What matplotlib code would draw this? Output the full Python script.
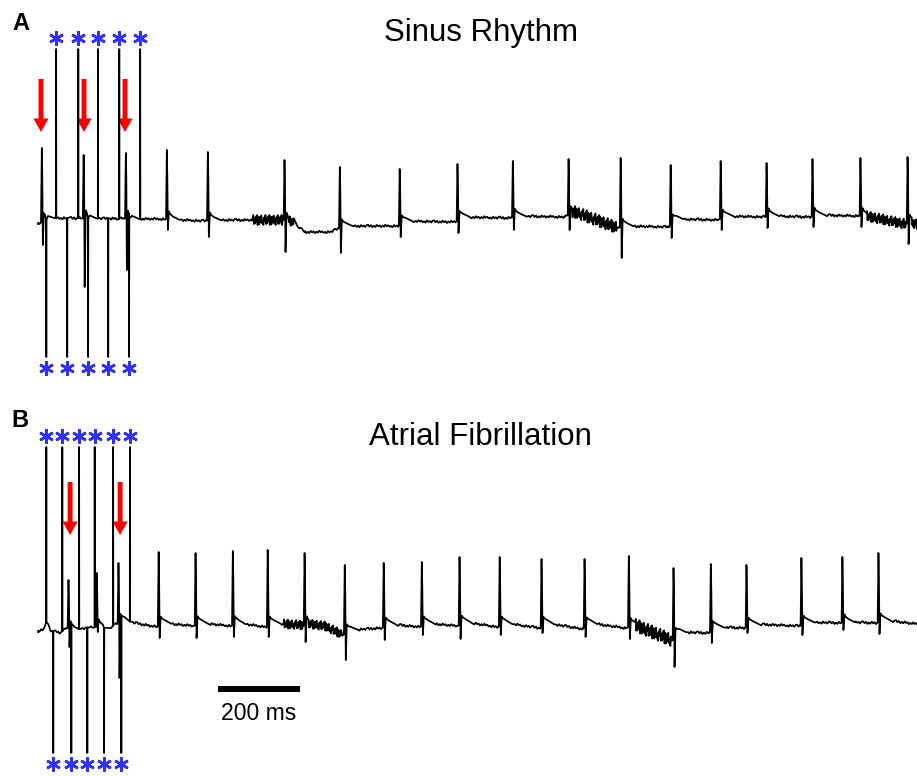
import matplotlib
matplotlib.use('Agg')
import matplotlib.pyplot as plt
import numpy as np

plt.rcParams['font.family'] = ['Liberation Sans', 'DejaVu Sans']

# ---------------- Panel A : sinus rhythm (time in ms, amplitude in mV) ----------------
a_beat_t = [10, 112, 215, 315, 415, 602, 737, 883, 1024, 1159, 1295, 1422,
            1544, 1666, 1778, 1890, 2007, 2122]
a_beat_peak = [1.40, 1.26, 1.30, 1.36, 1.32, 1.16, 1.02, 0.98, 1.08, 1.14, 1.18,
               1.20, 1.06, 1.14, 1.10, 1.18, 1.20, 1.22]
a_beat_trough = [-0.54, -1.38, -1.04, -0.24, -0.38, -0.68, -0.70, -0.38, -0.30,
                 -0.24, -0.24, -0.80, -0.40, -0.24, -0.20, -0.18, -0.18, -0.52]
a_base_t = [0, 29, 298, 407, 432, 598, 620, 651, 712, 749, 878, 895, 1017, 1034,
            1151, 1171, 1285, 1310, 1415, 1434, 1537, 1556, 1659, 1678, 1773, 1790,
            1883, 1902, 2000, 2020, 2115, 2132, 2144]
a_base_v = [-0.12, 0.0, -0.02, -0.06, -0.04, -0.04, -0.08, -0.28, -0.28, -0.16,
            -0.16, -0.06, -0.08, 0.02, 0.0, 0.04, 0.02, 0.12, -0.20, -0.16, -0.18,
            -0.02, -0.04, 0.04, 0.02, 0.04, 0.02, 0.06, 0.04, 0.04, -0.12, -0.08,
            -0.14]
a_pace_up_t = [44, 98, 146, 198, 249]
a_pace_down_t = [20, 71, 122, 171, 222]
a_pace_up_v = 3.38
a_pace_down_v = -2.78
a_arrow_t = [7, 112, 212]
a_noise = [(525, 625, 0.10), (1300, 1412, 0.12), (2022, 2144, 0.10)]

# ---------------- Panel B : atrial fibrillation ----------------
b_beat_t = [75, 144, 197, 295, 385, 476, 561, 651, 749, 844, 937, 1029, 1127,
            1229, 1334, 1442, 1551, 1642, 1729, 1863, 1963, 2051]
b_beat_peak = [0.90, 1.04, 1.24, 1.46, 1.44, 1.48, 1.50, 1.44, 1.20, 1.24, 1.26,
               1.36, 1.36, 1.32, 1.32, 1.38, 1.14, 1.22, 1.20, 1.34, 1.36, 1.44]
b_beat_trough = [-0.44, -0.14, -1.06, -0.26, -0.26, -0.24, -0.24, -0.34, -0.70,
                 -0.30, -0.20, -0.28, -0.20, -0.16, -0.24, -0.28, -0.84, -0.36,
                 -0.16, -0.20, -0.10, -0.18]
b_base_t = [0, 15, 22, 29, 54, 68, 90, 127, 176, 187, 212, 237, 290, 305, 380,
            395, 471, 485, 556, 571, 639, 663, 700, 744, 761, 839, 854, 932, 946,
            1024, 1039, 1122, 1137, 1224, 1239, 1329, 1344, 1432, 1456, 1546,
            1563, 1637, 1651, 1724, 1739, 1859, 1873, 1959, 1973, 2046, 2063, 2144]
b_base_v = [-0.14, -0.06, 0.10, -0.10, -0.16, -0.06, -0.10, -0.04, -0.06, 0.02,
            0.10, 0.04, -0.04, 0.04, -0.02, 0.04, -0.02, 0.04, -0.04, 0.04, 0.0,
            0.02, -0.02, -0.20, -0.10, -0.06, 0.02, -0.04, 0.04, -0.02, 0.06,
            -0.04, 0.04, -0.06, 0.04, -0.08, 0.04, -0.06, 0.0, -0.30, -0.14,
            -0.16, -0.04, -0.06, 0.02, -0.02, 0.06, 0.04, 0.06, 0.04, 0.10, 0.02]
b_pace_up_t = [20, 59, 100, 138, 183, 224]
b_pace_down_t = [37, 81, 120, 161, 203]
b_pace_up_v = 3.56
b_pace_down_v = -2.56
b_arrow_t = [78, 200]
b_noise = [(600, 740, 0.09), (1458, 1545, 0.13)]

scale_ms = 200
# irregular wiggle shape used for the fine baseline texture and the noisy bursts
texture = [1.0, -0.5, 0.7, -1.0, 0.2, -0.8, 0.9, -0.3, 0.5, -0.9, 0.3, -0.6,
           1.0, -0.2, 0.6, -0.7, 0.1, -1.0, 0.8, -0.4, 0.4, -0.8, 0.7]
t_wave = [(4, 0.16), (7, 0.11), (14, 0.06), (30, 0.0)]


def build_trace(base_t, base_v, beat_t, peak, trough, up_t, up_v, down_t, down_v, noise):
    def base(t):
        return float(np.interp(t, base_t, base_v))

    def busy(t, before=4, after=32):
        return any(-before < t - b < after for b in beat_t) or \
            any(abs(t - s) < 3 for s in list(up_t) + list(down_t))

    pts = [(t, v) for t, v in zip(base_t, base_v) if not busy(t)]
    for i, t in enumerate(np.arange(base_t[0], base_t[-1], 3.5)):
        if not busy(t):
            pts.append((t, base(t) + 0.025 * texture[i % len(texture)]))
    pts = [p for p in pts if not any(t0 <= p[0] <= t1 for t0, t1, _ in noise)]
    for t0, t1, amp in noise:
        for i, t in enumerate(np.arange(t0, t1, 1.3)):
            if not busy(t, 4, 8):
                pts.append((t, base(t) + amp * texture[(i * 5) % len(texture)]))
    for t, p, q in zip(beat_t, peak, trough):
        pts += [(t - 3, base(t - 3)), (t - 1, p), (t + 0.2, p * 0.6), (t + 1.5, q)]
        pts += [(t + d, base(t + d) + v) for d, v in t_wave]
    for t in up_t:
        pts += [(t - 0.4, base(t)), (t, up_v), (t + 0.4, base(t))]
    for t in down_t:
        pts += [(t - 0.4, base(t)), (t, down_v), (t + 0.4, base(t))]
    pts.sort(key=lambda p: p[0])
    tt, vv = zip(*pts)
    return np.array(tt), np.array(vv)


fig = plt.figure(figsize=(9.17, 7.76), dpi=100)
ax_a = fig.add_axes([0, 0.5, 1, 0.5])
ax_b = fig.add_axes([0, 0.0, 1, 0.5])

star_color = '#3030ff'
panels = [
    (ax_a, a_base_t, a_base_v, a_beat_t, a_beat_peak, a_beat_trough, a_pace_up_t,
     a_pace_up_v, a_pace_down_t, a_pace_down_v, a_noise, a_arrow_t, (-3.4, 4.36), (2.78, 1.72)),
    (ax_b, b_base_t, b_base_v, b_beat_t, b_beat_peak, b_beat_trough, b_pace_up_t,
     b_pace_up_v, b_pace_down_t, b_pace_down_v, b_noise, b_arrow_t, (-3.02, 4.74), (2.86, 1.80)),
]
for (ax, bt, bv, qt, qp, qn, ut, uv, dt, dv, nz, arr, ylim, arr_y) in panels:
    tt, vv = build_trace(bt, bv, qt, qp, qn, ut, uv, dt, dv, nz)
    ax.plot(tt, vv, color='black', lw=1.25)
    ax.plot(ut, [uv + 0.22] * len(ut), ls='none', marker=(6, 2, 0), ms=10.5,
            mew=1.9, color=star_color)
    ax.plot(dt, [dv - 0.22] * len(dt), ls='none', marker=(6, 2, 0), ms=10.5,
            mew=1.9, color=star_color)
    for t in arr:
        ax.arrow(t, arr_y[0], 0, arr_y[1] - arr_y[0], width=12, head_width=37,
                 head_length=0.27, length_includes_head=True, color='#ff0000', lw=0)
    ax.set_xlim(-93, 2144)
    ax.set_ylim(*ylim)
    ax.axis('off')

# scale bar
ax_b.plot([439, 439 + scale_ms], [-1.28, -1.28], color='black', lw=4.3, solid_capstyle='butt')
ax_b.text(439 + scale_ms / 2, -1.78, f'{scale_ms} ms', ha='center', va='center', fontsize=16.6)

fig.text(0.5245, 0.9575, 'Sinus Rhythm', ha='center', va='center', fontsize=22.5)
fig.text(0.5235, 0.4369, 'Atrial Fibrillation', ha='center', va='center', fontsize=22.5)
fig.text(0.0229, 0.970, 'A', ha='center', va='center', fontsize=17, fontweight='bold')
fig.text(0.0218, 0.4575, 'B', ha='center', va='center', fontsize=17, fontweight='bold')

plt.savefig('out.png', dpi=100)
